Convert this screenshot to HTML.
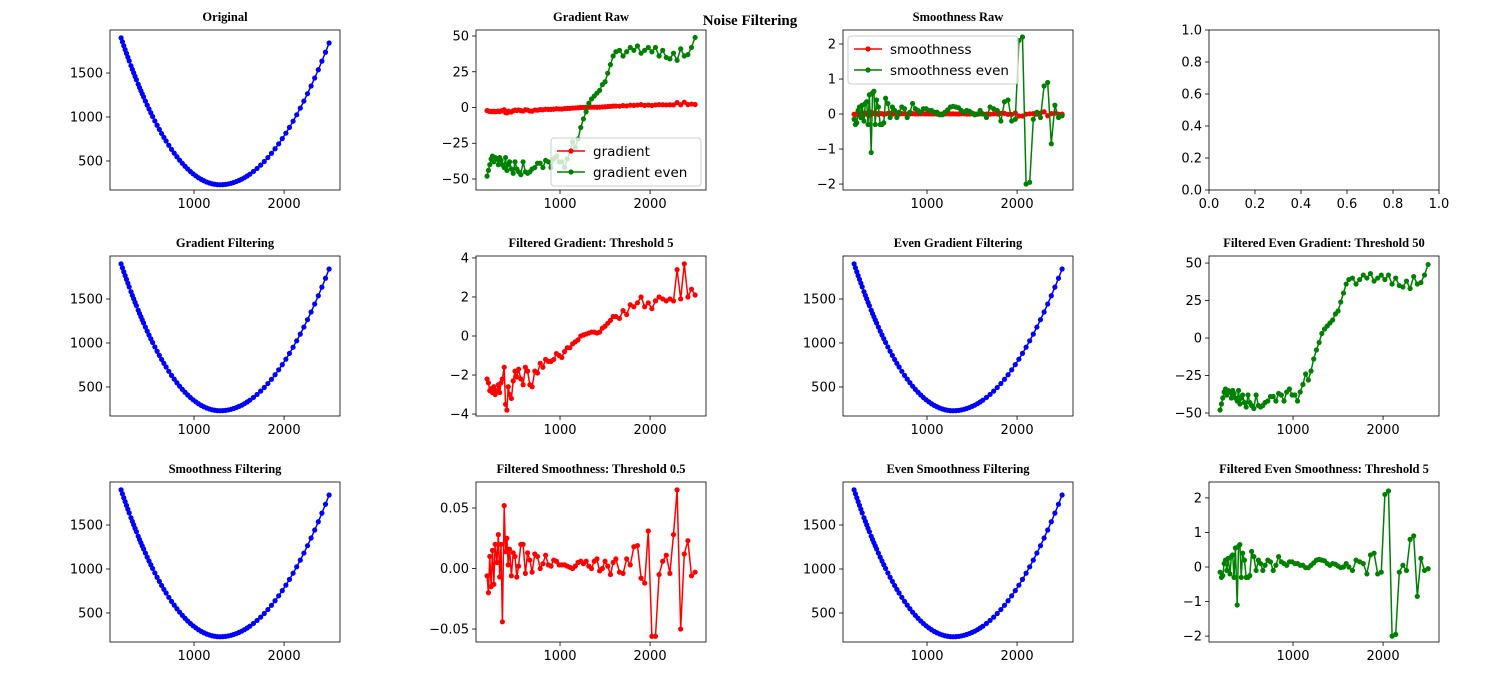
<!DOCTYPE html>
<html><head><meta charset="utf-8"><style>
html,body{margin:0;padding:0;background:#fff}
svg{display:block}
</style></head><body>
<svg id="fig" width="1500" height="700" xmlns="http://www.w3.org/2000/svg" font-family="DejaVu Sans, Liberation Sans, sans-serif">
<rect width="1500" height="700" fill="#fff"/>
<text x="750" y="25" text-anchor="middle" font-family="Liberation Serif, serif" font-weight="bold" font-size="15">Noise Filtering</text>
</svg>
<script>
const xs = [190,205,220,235,250,265,280,300,315,330,
345,360,380,395,410,425,440,460,480,500,
520,540,565,590,615,640,665,690,720,750,
780,810,840,870,900,930,960,990,1020,1050,
1080,1110,1140,1170,1200,1230,1260,1290,1320,1350,
1380,1410,1440,1470,1500,1530,1560,1590,1620,1660,
1700,1740,1780,1820,1860,1900,1940,1980,2020,2060,
2100,2140,2180,2220,2260,2300,2340,2380,2420,2460,
2500];
const ys = [1900,1855,1810,1766,1723,1680,1638,1583,1542,1502,
1462,1424,1373,1335,1299,1263,1227,1181,1135,1091,
1048,1006,955,906,859,813,769,727,678,632,
589,548,509,473,440,409,380,354,331,309,
291,275,261,250,241,235,231,230,231,234,
239,246,255,266,279,293,310,329,350,381,
415,453,494,539,587,639,695,754,816,882,
952,1025,1101,1181,1265,1352,1443,1537,1635,1736,
1841];
const grad = [-2.2,-2.4,-2.8,-2.7,-2.9,-2.6,-3.0,-2.8,-2.5,-2.9,
-2.4,-2.2,-1.6,-3.5,-3.8,-2.6,-3.0,-3.2,-2.3,-1.8,
-2.1,-1.7,-2.2,-2.5,-1.6,-1.8,-2.5,-2.6,-1.8,-1.9,
-1.4,-1.6,-1.2,-1.3,-1.3,-1.2,-0.9,-1.0,-1.1,-0.8,
-0.6,-0.6,-0.4,-0.3,-0.2,0.0,0.05,0.1,0.15,0.2,
0.2,0.15,0.2,0.4,0.5,0.65,0.8,1.0,1.0,0.9,
1.3,1.1,1.6,1.5,1.7,2.0,1.5,1.7,1.4,1.8,
2.0,1.9,1.8,1.9,1.8,3.4,1.9,3.7,2.0,2.4,
2.1];
const gradEven = [-48,-44,-40,-36,-34,-38,-35,-36,-40,-35,
-37,-40,-42,-35,-44,-40,-38,-43,-46,-38,
-43,-45,-47,-38,-45,-46,-45,-43,-42,-39,
-39,-42,-37,-38,-42,-36,-34,-38,-38,-42,
-36,-31,-24,-28,-22,-14,-8,-3,3,6,
8,10,12,16,18,24,30,36,39,40,
36,39,42,40,43,38,40,42,39,42,
36,40,35,34,38,33,41,36,37,42,
49];
const smooth = [-0.006,-0.02,0.01,-0.015,0.015,-0.013,0.02,0.005,0.028,-0.007,
0.02,-0.044,0.052,0.014,0.025,0.003,0.016,-0.006,0.013,0.01,
-0.007,0.002,0.02,0.02,-0.004,0.013,0.007,-0.003,0.012,0.01,
0.0,0.004,0.011,0.003,0.002,0.007,0.006,0.003,0.003,0.003,
0.002,0.001,0.0,0.002,0.005,0.006,0.004,0.006,0.002,0.0,
0.006,0.008,-0.002,0.0,0.006,0.002,-0.005,0.005,0.008,-0.003,
-0.004,0.008,0.003,0.018,0.019,-0.008,-0.012,0.031,-0.056,-0.056,
-0.005,0.006,0.011,-0.004,0.028,0.065,-0.05,0.012,0.023,-0.006,
-0.003];
const smoothEven = [-0.15,-0.3,-0.25,0.1,0.2,-0.1,0.25,-0.2,0.3,0.35,
-0.3,0.55,-1.1,0.6,0.65,-0.3,0.4,0.2,-0.3,-0.3,
-0.25,0.45,0.3,-0.1,0.2,0.1,-0.1,0.05,0.2,0.15,
-0.1,0.05,0.3,0.15,0.1,0.05,0.15,0.15,0.1,0.1,
0.05,0.05,-0.02,-0.02,0.05,0.12,0.2,0.22,0.2,0.18,
0.1,0.05,0.1,0.08,0.03,-0.02,0.0,0.1,0.0,-0.1,
0.2,0.15,0.1,-0.2,0.35,0.4,-0.2,-0.15,2.1,2.2,
-2.0,-1.95,-0.15,0.05,-0.1,0.8,0.9,-0.85,0.25,-0.1,
-0.05];
const xTicks = [1000, 2000];
const curveTicks = [500, 1000, 1500];
const gradTicks = [-50, -25, 0, 25, 50];
const smoothTicks = [-2, -1, 0, 1, 2];
const fgTicks = [-4, -2, 0, 2, 4];
const fsTicks = [-0.05, 0, 0.05];
const emptyTicks = [0, 0.2, 0.4, 0.6, 0.8, 1.0];

const NS = 'http://www.w3.org/2000/svg';
const svg = document.getElementById('fig');
function mk(tag, attrs, parent){
  const e = document.createElementNS(NS, tag);
  for (const k in attrs) e.setAttribute(k, attrs[k]);
  (parent||svg).appendChild(e);
  return e;
}
const colX = [110, 476, 843, 1209];
const rowY = [30, 256, 482];
const W = 230, H = 160;
const XD = [67, 2621];

function fmt(v, dec){ return (v<0?'−':'') + Math.abs(v).toFixed(dec); }

function axes(name, c, r, title, yd, yt, ydec, xd, xt, xdec){
  const g = mk('g', {});
  
  
  const x0 = colX[c], y0 = rowY[r];
  const sx = v => x0 + (v - xd[0]) / (xd[1] - xd[0]) * W;
  const sy = v => y0 + H - (v - yd[0]) / (yd[1] - yd[0]) * H;
  if (title){
    const t = mk('text', {x: x0 + W/2, y: y0 - 9, 'text-anchor':'middle', 'font-family':'Liberation Serif, serif', 'font-weight':'bold', 'font-size':12.5}, g);
    t.textContent = title;
    
    
  }
  xt.forEach(v => {
    const px = sx(v);
    mk('line', {x1:px, x2:px, y1:y0+H, y2:y0+H+4, stroke:'#000', 'stroke-width':0.8}, g);
    const t = mk('text', {x:px, y:y0+H+18, 'text-anchor':'middle', 'font-size':13}, g);
    t.textContent = fmt(v, xdec);
    
    
  });
  yt.forEach(v => {
    const py = sy(v);
    mk('line', {x1:x0-4, x2:x0, y1:py, y2:py, stroke:'#000', 'stroke-width':0.8}, g);
    const t = mk('text', {x:x0-7, y:py+4.5, 'text-anchor':'end', 'font-size':13}, g);
    t.textContent = fmt(v, ydec);
    
    
  });
  const clip = 'clip' + c + r;
  const cp = mk('clipPath', {id: clip}, g);
  mk('rect', {x:x0, y:y0, width:W, height:H}, cp);
  const plot = mk('g', {'clip-path':'url(#'+clip+')'}, g);
  const frame = mk('rect', {x:x0, y:y0, width:W, height:H, fill:'none', stroke:'#000', 'stroke-width':0.8}, g);
  
  
  return {plot, sx, sy, g};
}
function series(ax, vals, color, name){
  const pts = xs.map((x,i) => ax.sx(x).toFixed(1) + ',' + ax.sy(vals[i]).toFixed(1)).join(' ');
  const l = mk('polyline', {points: pts, fill:'none', stroke:color, 'stroke-width':1.5, 'stroke-linejoin':'round'}, ax.plot);
  
  
  xs.forEach((x,i) => {
    const d = mk('circle', {cx: ax.sx(x), cy: ax.sy(vals[i]), r: 2.6, fill: color}, ax.plot);
    
    
  });
}
function legend(name, x, y, w, entries){
  const g = mk('g', {});
  
  
  mk('rect', {x:x, y:y, width:w, height:entries.length*21+6, rx:3, fill:'#fff', 'fill-opacity':0.8, stroke:'#ccc'}, g);
  entries.forEach((e,i) => {
    const cy = y + 13 + i*21;
    mk('line', {x1:x+6, x2:x+34, y1:cy, y2:cy, stroke:e[1], 'stroke-width':1.5}, g);
    mk('circle', {cx:x+20, cy:cy, r:2.6, fill:e[1]}, g);
    const t = mk('text', {x:x+42, y:cy+5, 'font-size':13.5}, g);
    t.textContent = e[0];
    
    
  });
}
const CURVE_Y = [170, 1989];
let a;
a = axes('original-plot', 0, 0, 'Original', CURVE_Y, curveTicks, 0, XD, xTicks, 0); series(a, ys, '#0000ff', 'original');
a = axes('gradient-raw-plot', 1, 0, 'Gradient Raw', [-57.7, 54.2], gradTicks, 0, XD, xTicks, 0);
series(a, grad, '#ff0000', 'gradient'); series(a, gradEven, '#008000', 'gradient-even');
legend('gradient-legend', 551, 138, 150, [['gradient', '#ff0000'], ['gradient even', '#008000']]);
a = axes('smoothness-raw-plot', 2, 0, 'Smoothness Raw', [-2.17, 2.4], smoothTicks, 0, XD, xTicks, 0);
series(a, smooth, '#ff0000', 'smoothness'); series(a, smoothEven, '#008000', 'smoothness-even');
legend('smoothness-legend', 848, 36, 170, [['smoothness', '#ff0000'], ['smoothness even', '#008000']]);
axes('empty-plot', 3, 0, '', [0, 1], emptyTicks, 1, [0, 1], emptyTicks, 1);
a = axes('gradient-filtering-plot', 0, 1, 'Gradient Filtering', CURVE_Y, curveTicks, 0, XD, xTicks, 0); series(a, ys, '#0000ff', 'gradient-filtered-curve');
a = axes('filtered-gradient-plot', 1, 1, 'Filtered Gradient: Threshold 5', [-4.1, 4.1], fgTicks, 0, XD, xTicks, 0); series(a, grad, '#ff0000', 'filtered-gradient');
a = axes('even-gradient-filtering-plot', 2, 1, 'Even Gradient Filtering', CURVE_Y, curveTicks, 0, XD, xTicks, 0); series(a, ys, '#0000ff', 'even-gradient-curve');
a = axes('filtered-even-gradient-plot', 3, 1, 'Filtered Even Gradient: Threshold 50', [-52, 54.7], gradTicks, 0, XD, xTicks, 0); series(a, gradEven, '#008000', 'filtered-even-gradient');
a = axes('smoothness-filtering-plot', 0, 2, 'Smoothness Filtering', CURVE_Y, curveTicks, 0, XD, xTicks, 0); series(a, ys, '#0000ff', 'smoothness-curve');
a = axes('filtered-smoothness-plot', 1, 2, 'Filtered Smoothness: Threshold 0.5', [-0.0607, 0.0715], fsTicks, 2, XD, xTicks, 0); series(a, smooth, '#ff0000', 'filtered-smoothness');
a = axes('even-smoothness-filtering-plot', 2, 2, 'Even Smoothness Filtering', CURVE_Y, curveTicks, 0, XD, xTicks, 0); series(a, ys, '#0000ff', 'even-smoothness-curve');
a = axes('filtered-even-smoothness-plot', 3, 2, 'Filtered Even Smoothness: Threshold 5', [-2.17, 2.46], smoothTicks, 0, XD, xTicks, 0); series(a, smoothEven, '#008000', 'filtered-even-smoothness');
</script>
</body></html>
